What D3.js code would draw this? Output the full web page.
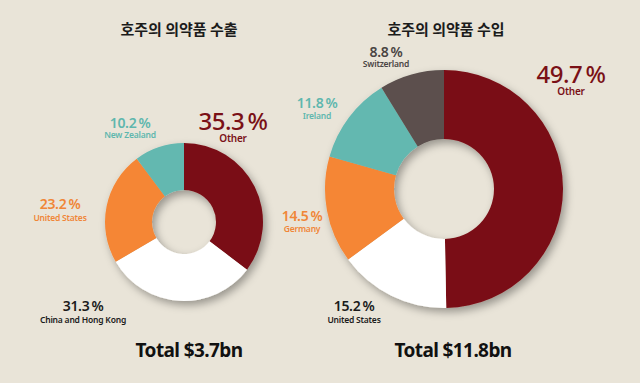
<!DOCTYPE html>
<html><head><meta charset="utf-8">
<script src="https://cdn.jsdelivr.net/npm/d3@7/dist/d3.min.js"></script>
<style>
html,body{margin:0;padding:0;background:#e9e4d8;}
svg{display:block;}
</style></head>
<body>
<script>
// ---- data ----
const exportTitle = "호주의 의약품 수출";
const importTitle = "호주의 의약품 수입";
const exportLabels = ["Other", "China and Hong Kong", "United States", "New Zealand"];
const exportValues = [35.3, 31.3, 23.2, 10.2];
const exportTotal = "Total $3.7bn";
const importLabels = ["Other", "United States", "Germany", "Ireland", "Switzerland"];
const importValues = [49.7, 15.2, 14.5, 11.8, 8.8];
const importTotal = "Total $11.8bn";

// ---- styles / layout ----
const W = 640, H = 383;
const exportColors = {"Other":"#7a1016","China and Hong Kong":"#ffffff","United States":"#f58634","New Zealand":"#63b8b0"};
const importColors = {"Other":"#7a1016","United States":"#ffffff","Germany":"#f58634","Ireland":"#63b8b0","Switzerland":"#5b504d"};
const exportText = {"Other":"#7a1016","China and Hong Kong":"#1b1b1b","United States":"#f08637","New Zealand":"#5fb7ae"};
const importText = {"Other":"#7a1016","United States":"#1b1b1b","Germany":"#f08637","Ireland":"#5fb7ae","Switzerland":"#4a4443"};
// label offsets relative to donut centre: [dx, pctDy, nameDy]
const exportLabelPos = {"Other":[49,-92,-80],"China and Hong Kong":[-101,89,101],"United States":[-124,-13,-1],"New Zealand":[-54,-94,-84]};
const importLabelPos = {"Other":[127,-106,-94],"United States":[-90,122,134],"Germany":[-142,32,43],"Ireland":[-127,-81,-70],"Switzerland":[-58,-132,-122]};

const svg = d3.select("body").append("svg").attr("width", W).attr("height", H);
svg.append("rect").attr("width", W).attr("height", H).attr("fill", "#e9e4d8");

const defs = svg.append("defs");
const f = defs.append("filter").attr("id","shadow").attr("x","-20%").attr("y","-20%").attr("width","150%").attr("height","150%");
f.append("feDropShadow").attr("dx",3).attr("dy",4).attr("stdDeviation",4).attr("flood-color","#000").attr("flood-opacity",0.35);

const FONT = "'Noto Sans', 'Open Sans', sans-serif";
const KFONT = "'Noto Sans CJK KR', sans-serif";

function donut(cfg) {
  const g = svg.append("g").attr("transform", `translate(${cfg.cx},${cfg.cy})`);
  const pie = d3.pie().sort(null).value(d => d.v);
  const arc = d3.arc().innerRadius(cfg.r0).outerRadius(cfg.r1);
  const data = cfg.labels.map((l, i) => ({l, v: cfg.values[i]}));
  const arcs = pie(data);
  g.append("g").attr("filter","url(#shadow)")
    .selectAll("path").data(arcs).join("path")
    .attr("d", arc)
    .attr("fill", d => cfg.colors[d.data.l]);

  const lg = g.append("g").attr("text-anchor","middle").attr("font-family", FONT);
  arcs.forEach(d => {
    const p = cfg.pos[d.data.l];
    const big = d.data.l === "Other";
    const t = lg.append("text").attr("fill", cfg.text[d.data.l]);
    t.append("tspan")
      .attr("x", p[0]).attr("y", p[1])
      .attr("font-size", big ? 24 : 14)
      .attr("font-weight", big ? 500 : 600)
      .attr("letter-spacing", big ? -0.5 : -0.3)
      .text(d3.format(".1f")(d.data.v) + "\u2009%");
    t.append("tspan")
      .attr("x", p[0]).attr("y", p[2])
      .attr("font-size", big ? 10 : 8.5)
      .attr("font-weight", 600)
      .attr("letter-spacing", -0.2)
      .text(d.data.l);
  });
  svg.append("text").attr("x", cfg.titleX).attr("y", 35)
    .attr("text-anchor","middle").attr("font-family", KFONT)
    .attr("font-size", 15).attr("font-weight", 700).attr("fill","#1b1b1b")
    .text(cfg.title);
  svg.append("text").attr("x", cfg.totalX).attr("y", 357)
    .attr("text-anchor","middle").attr("font-family", FONT)
    .attr("font-size", 19).attr("font-weight", 700).attr("fill","#111")
    .attr("letter-spacing", -0.6)
    .text(cfg.total);
}

donut({cx:184, cy:222, r0:32, r1:79, labels:exportLabels, values:exportValues,
  colors:exportColors, text:exportText, pos:exportLabelPos,
  title:exportTitle, titleX:179, total:exportTotal, totalX:189});
donut({cx:444, cy:189, r0:50, r1:119, labels:importLabels, values:importValues,
  colors:importColors, text:importText, pos:importLabelPos,
  title:importTitle, titleX:446, total:importTotal, totalX:453});
</script>
</body></html>
